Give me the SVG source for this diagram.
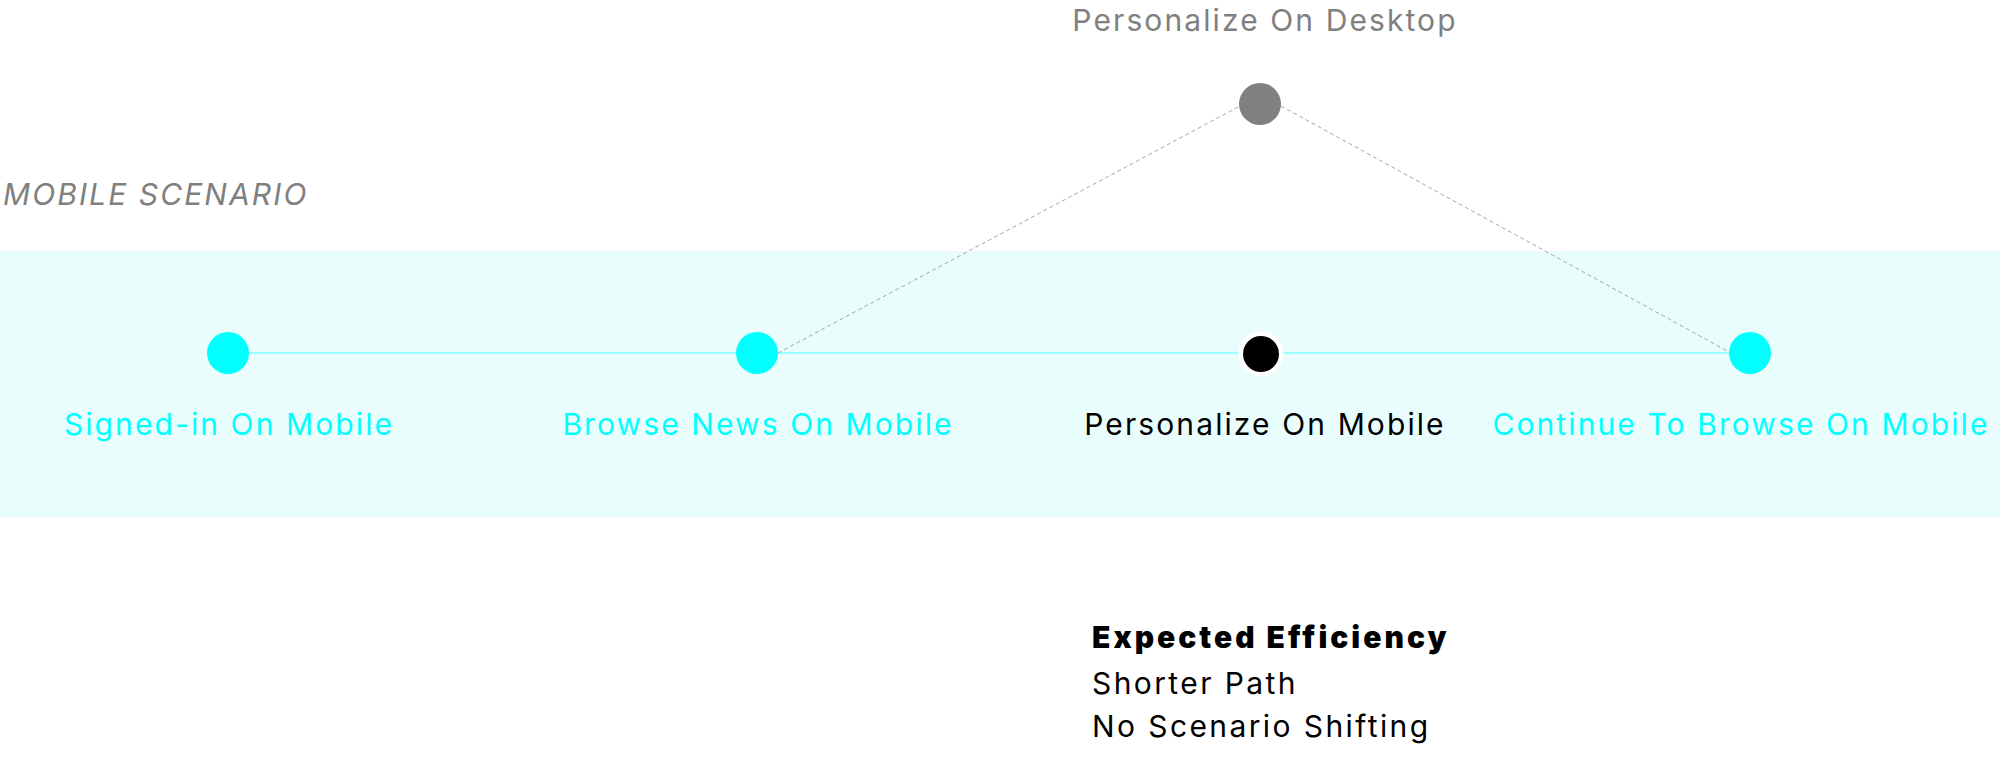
<svg xmlns="http://www.w3.org/2000/svg" width="2000" height="758" viewBox="0 0 2000 758">
<style>
.t{font-family:Inter,"Noto Sans","Liberation Sans",sans-serif;font-size:30px;letter-spacing:2.1px}
.c{fill:#00FFFF}
.g{fill:#808080}
.k{fill:#000000}
.mid{text-anchor:middle}
.solid{stroke:#7FFFFF;stroke-width:1.5;fill:none}
.dash{stroke:#A6A6A6;stroke-width:1;stroke-dasharray:4 3;fill:none}
.b{letter-spacing:2.4px}
.bb{font-weight:900;letter-spacing:3px}
</style>
<rect id="band" x="0" y="251" width="2000" height="266" fill="#EAFDFD"/>
<text id="scenario-title" class="t g" x="3" y="205" font-style="italic">MOBILE SCENARIO</text>
<g id="connectors">
<line class="solid" x1="228" y1="353" x2="1750" y2="353"/>
<line class="dash" x1="778" y1="353" x2="1240" y2="106"/>
<line class="dash" x1="1281" y1="106" x2="1729" y2="352"/>
</g>
<g id="node-signed-in">
<circle class="c" cx="228" cy="353" r="21"/>
<text class="t c mid" x="229" y="435">Signed-in On Mobile</text>
</g>
<g id="node-browse">
<circle class="c" cx="757" cy="353" r="21"/>
<text class="t c mid" x="758" y="435">Browse News On Mobile</text>
</g>
<g id="node-personalize-mobile">
<circle cx="1261" cy="354" r="20.2" fill="#000" stroke="#FFF" stroke-width="4.5"/>
<text class="t k mid" x="1265" y="435">Personalize On Mobile</text>
</g>
<g id="node-continue">
<circle class="c" cx="1750" cy="353" r="21"/>
<text class="t c mid" x="1741" y="435">Continue To Browse On Mobile</text>
</g>
<g id="node-personalize-desktop">
<circle class="g" cx="1260" cy="104" r="21"/>
<text class="t g mid" x="1265" y="31">Personalize On Desktop</text>
</g>
<g id="efficiency">
<text class="t bb k" x="1092" y="648">Expected Efficiency</text>
<text class="t b k" x="1092" y="694">Shorter Path</text>
<text class="t b k" x="1092" y="737">No Scenario Shifting</text>
</g>
</svg>
